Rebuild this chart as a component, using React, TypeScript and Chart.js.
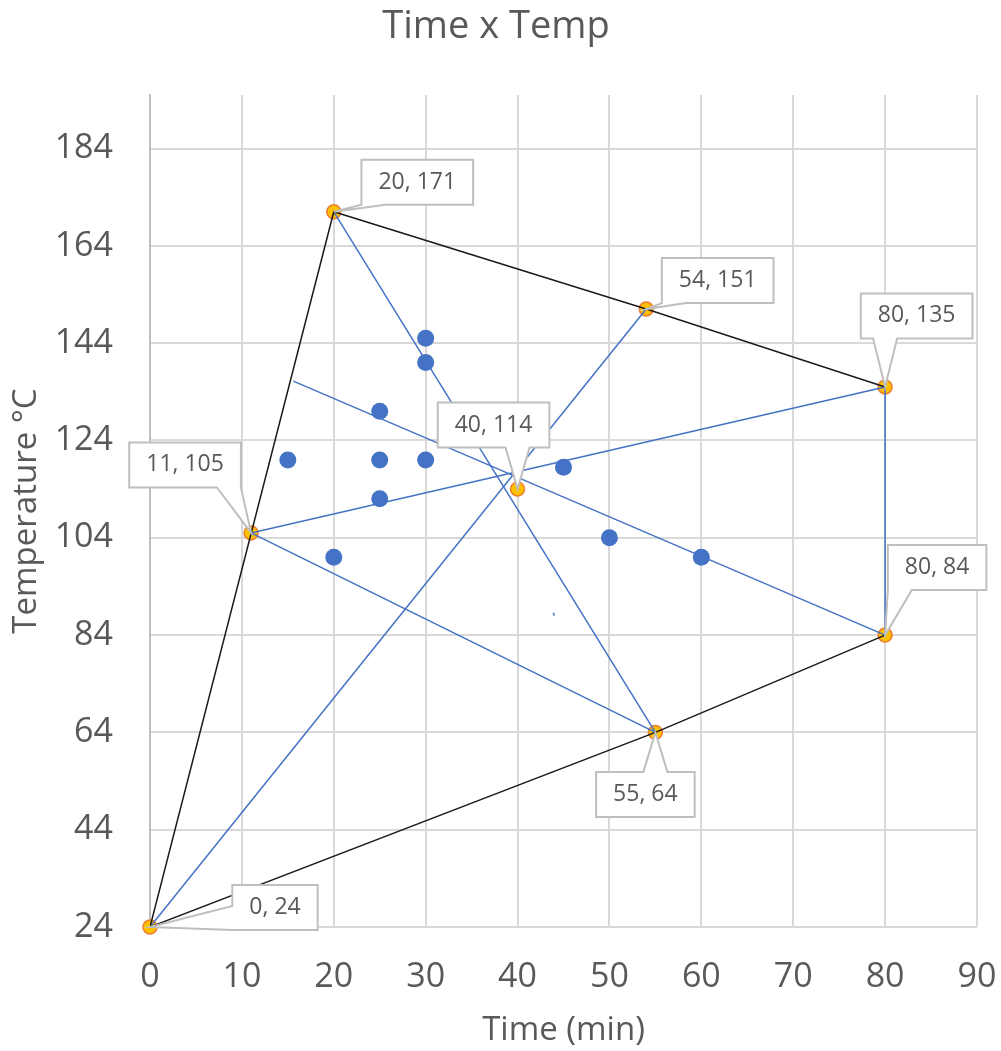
import React, { useEffect, useRef } from "react";
import { Chart, registerables } from "chart.js";

Chart.register(...registerables);

// ---------- data ----------
const xTickValues = [0, 10, 20, 30, 40, 50, 60, 70, 80, 90];
const yTickValues = [24, 44, 64, 84, 104, 124, 144, 164, 184];

// labelled (orange) points
const markerX = [0, 20, 54, 80, 11, 40, 80, 55];
const markerY = [24, 171, 151, 135, 105, 114, 84, 64];

// blue sample points
const sampleX = [15, 20, 25, 25, 25, 30, 30, 30, 45, 50, 60];
const sampleY = [120, 100, 130, 120, 112, 145, 140, 120, 118.5, 104, 100];

// black outline
const outlineUpperX = [0, 20, 54, 80];
const outlineUpperY = [24, 171, 151, 135];
const outlineLowerX = [80, 55, 0];
const outlineLowerY = [84, 64, 24];

// blue connecting segments
const blueSegX = [
  [80, 80],
  [20, 55],
  [0, 54],
  [11, 80],
  [11, 55],
  [80, 15.6],
  [43.9, 44.0],
];
const blueSegY = [
  [135, 84],
  [171, 64],
  [24, 151],
  [105, 135],
  [105, 64],
  [84, 136.2],
  [88.6, 88.0],
];

// ---------- styling / placement ----------
const FONT = '"Open Sans", sans-serif';
const TEXT = "#595959";
const BLUE = "#4472C4";
const BLACK = "#1a1a1a";
// callout box centre offset (px) relative to its point
const labelOffsets = [
  [125, -19.5],
  [83.5, -29.5],
  [71.5, -28.5],
  [31.5, -71],
  [-66, -68],
  [-24, -64],
  [52, -67.5],
  [-10, 62],
];

const toPts = (xs: number[], ys: number[]) => xs.map((x, i) => ({ x, y: ys[i] }));

const calloutPlugin = {
  id: "callouts",
  afterDatasetsDraw(chart: any) {
    const ctx = chart.ctx as CanvasRenderingContext2D;
    const xs = chart.scales.x;
    const ys = chart.scales.y;
    const clamp = (v: number, a: number, b: number) => Math.max(a, Math.min(b, v));
    ctx.save();
    ctx.font = `23px ${FONT}`;
    markerX.forEach((xv, i) => {
      const yv = markerY[i];
      const px = xs.getPixelForValue(xv);
      const py = ys.getPixelForValue(yv);
      const text = `${xv}, ${yv}`;
      const w = ctx.measureText(text).width + 34;
      const h = 45;
      const cx = px + labelOffsets[i][0];
      const cy = py + labelOffsets[i][1];
      const l = cx - w / 2, r = cx + w / 2, t = cy - h / 2, b = cy + h / 2;
      const hw = 12;
      ctx.beginPath();
      ctx.moveTo(l, t);
      if (py < t) {
        const c = clamp(px, l + hw, r - hw);
        ctx.lineTo(c - hw, t); ctx.lineTo(px, py); ctx.lineTo(c + hw, t);
      }
      ctx.lineTo(r, t);
      if (py >= t && py <= b && px > r) {
        const c = clamp(py, t + hw, b - hw);
        ctx.lineTo(r, c - hw); ctx.lineTo(px, py); ctx.lineTo(r, c + hw);
      }
      ctx.lineTo(r, b);
      if (py > b) {
        const c = clamp(px, l + hw, r - hw);
        ctx.lineTo(c + hw, b); ctx.lineTo(px, py); ctx.lineTo(c - hw, b);
      }
      ctx.lineTo(l, b);
      if (py >= t && py <= b && px < l) {
        const c = clamp(py, t + hw, b - hw);
        ctx.lineTo(l, c + hw); ctx.lineTo(px, py); ctx.lineTo(l, c - hw);
      }
      ctx.closePath();
      ctx.fillStyle = "#ffffff";
      ctx.fill();
      ctx.strokeStyle = "#BFBFBF";
      ctx.lineWidth = 2;
      ctx.stroke();
      ctx.fillStyle = TEXT;
      ctx.textAlign = "center";
      ctx.textBaseline = "middle";
      ctx.fillText(text, cx, cy);
    });
    ctx.restore();
  },
};

const titlePlugin = {
  id: "mainTitle",
  afterDraw(chart: any) {
    const ctx = chart.ctx as CanvasRenderingContext2D;
    ctx.save();
    ctx.font = `38px ${FONT}`;
    ctx.fillStyle = TEXT;
    ctx.textAlign = "center";
    ctx.textBaseline = "alphabetic";
    ctx.fillText("Time x Temp", 496, 38);
    ctx.restore();
  },
};

export default function App() {
  const ref = useRef<HTMLCanvasElement | null>(null);

  useEffect(() => {
    if (!ref.current) return;
    const lineDs = (xs: number[], ys: number[], color: string, width: number) => ({
      data: toPts(xs, ys),
      showLine: true,
      borderColor: color,
      borderWidth: width,
      pointRadius: 0,
      pointHoverRadius: 0,
      fill: false,
      order: 1,
    });
    const datasets: any[] = [
      {
        data: toPts(sampleX, sampleY),
        pointRadius: 8.5,
        pointBackgroundColor: BLUE,
        pointBorderColor: BLUE,
        pointBorderWidth: 0,
        order: 0,
      },
      lineDs(outlineUpperX, outlineUpperY, BLACK, 1.5),
      lineDs(outlineLowerX, outlineLowerY, BLACK, 1.5),
      ...blueSegX.map((xs, i) => lineDs(xs, blueSegY[i], BLUE, 1.5)),
      {
        data: toPts(markerX, markerY),
        pointRadius: 7,
        pointBackgroundColor: "#FFC000",
        pointBorderColor: "#ED7D31",
        pointBorderWidth: 1.5,
        clip: false,
        order: 3,
      },
    ];

    const chart = new Chart(ref.current, {
      type: "scatter",
      data: { datasets },
      options: {
        responsive: false,
        animation: false,
        layout: { padding: { top: 95, right: 24, left: 0, bottom: 0 } },
        plugins: { legend: { display: false }, tooltip: { enabled: false }, title: { display: false } },
        scales: {
          x: {
            type: "linear",
            min: 0,
            max: 90,
            afterBuildTicks: (s: any) => {
              s.ticks = xTickValues.map((v) => ({ value: v }));
            },
            afterFit: (s: any) => {
              s.height = 124;
              s.paddingLeft = 0;
              s.paddingRight = 0;
            },
            grid: { color: "#D9D9D9", lineWidth: 2, drawTicks: false },
            border: { display: false },
            ticks: { padding: 30, color: TEXT, font: { family: FONT, size: 34 } },
            title: {
              display: true,
              text: "Time (min)",
              color: TEXT,
              font: { family: FONT, size: 33 },
              padding: { top: 0, bottom: 1 },
            },
          },
          y: {
            type: "linear",
            min: 24,
            max: 195,
            afterBuildTicks: (s: any) => {
              s.ticks = yTickValues.map((v) => ({ value: v }));
            },
            afterFit: (s: any) => {
              s.width = 150;
            },
            grid: { color: "#D9D9D9", lineWidth: 2, drawTicks: false },
            border: { display: true, color: "#BFBFBF", width: 2 },
            ticks: { padding: 37, color: TEXT, font: { family: FONT, size: 34 } },
            title: {
              display: true,
              text: "Temperature °C",
              color: TEXT,
              font: { family: FONT, size: 33 },
              padding: { top: 7, bottom: 0 },
            },
          },
        },
      },
      plugins: [calloutPlugin, titlePlugin],
    } as any);
    return () => chart.destroy();
  }, []);

  return (
    <canvas
      ref={ref}
      width={1001}
      height={1051}
      style={{ position: "absolute", left: 0, top: 0, width: 1001, height: 1051, display: "block" }}
    />
  );
}
